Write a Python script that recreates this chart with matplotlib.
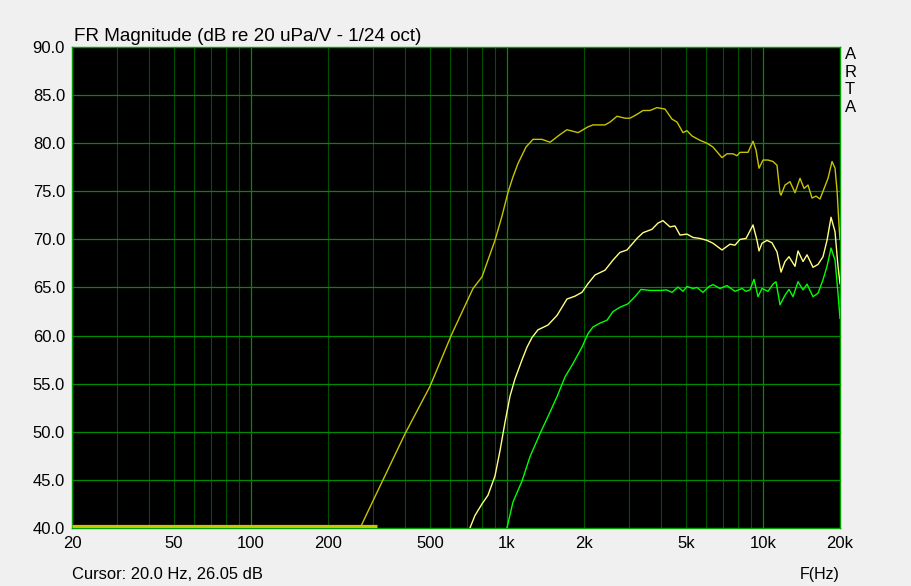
import numpy as np
import matplotlib
matplotlib.use("Agg")
import matplotlib.pyplot as plt
from matplotlib.ticker import FixedLocator, NullFormatter

# Curve 1 (olive yellow)
freq_a = [267, 297, 400, 500, 610, 737, 799, 898, 956, 1010, 1056, 1105, 1187, 1264, 1370,
          1474, 1612, 1716, 1896, 2073, 2168, 2416, 2528, 2692, 2892, 3024, 3221, 3402, 3620,
          3856, 4144, 4414, 4616, 4871, 5050, 5284, 5678, 6044, 6381, 6920, 7238, 7638, 7920,
          8136, 8742, 9146, 9394, 9652, 10006, 10466, 10946, 11350, 11660, 11766, 12196, 12756,
          13344, 13960, 14470, 14998, 15548, 16118, 16708, 17164, 17958, 18618, 19124, 19474,
          19820, 20000]
db_a = [40.0, 42.6, 49.8, 54.7, 60.2, 64.9, 66.1, 69.9, 72.4, 74.9, 76.5, 77.9, 79.6, 80.4, 80.4,
        80.1, 80.9, 81.4, 81.1, 81.7, 81.9, 81.9, 82.2, 82.8, 82.6, 82.6, 83.0, 83.4, 83.4,
        83.7, 83.55, 82.5, 82.2, 81.1, 81.3, 80.75, 80.3, 80.0, 79.6, 78.5, 78.9, 78.9, 78.7,
        79.05, 79.05, 80.2, 79.3, 77.4, 78.25, 78.25, 78.1, 77.7, 74.8, 74.6, 75.65, 76.0,
        74.85, 76.35, 75.3, 75.65, 74.3, 74.5, 74.2, 75.0, 76.35, 78.1, 77.4, 75.1,
        71.5, 70.0]

# Curve 2 (light yellow)
freq_b = [717, 750, 799, 843, 898, 939, 983, 1028, 1075, 1146, 1198, 1253, 1322, 1447, 1569,
          1716, 1844, 1964, 2073, 2208, 2416, 2596, 2764, 2944, 3221, 3402, 3685, 3892, 4070,
          4334, 4533, 4743, 5050, 5333, 5678, 6044, 6381, 6920, 7436, 7778, 8136, 8589, 9146,
          9480, 9652, 9916, 10372, 10848, 11350, 11766, 12196, 12642, 13344, 13710, 14342,
          14866, 15688, 16410, 17164, 17796, 18450, 19124, 19644, 20000]
db_b = [40.0, 41.3, 42.5, 43.4, 45.4, 48.0, 51.0, 53.7, 55.5, 57.5, 58.8, 59.8, 60.6, 61.1, 62.1,
        63.8, 64.1, 64.5, 65.4, 66.3, 66.8, 67.85, 68.65, 68.9, 70.1, 70.7, 71.05, 71.7, 71.95,
        71.3, 71.4, 70.45, 70.55, 70.2, 70.1, 69.9, 69.6, 68.9, 69.5, 69.4, 70.0, 70.1, 71.5,
        69.9, 68.8, 69.6, 69.9, 69.65, 68.7, 66.6, 67.7, 68.2, 67.2, 68.8, 67.7,
        68.4, 67.1, 67.4, 68.2, 69.9, 72.3, 70.8, 67.2, 65.4]

# Curve 3 (green)
freq_c = [1000, 1056, 1146, 1230, 1346, 1447, 1569, 1686, 1812, 1964, 2073, 2168, 2310, 2460,
          2596, 2764, 2970, 3164, 3340, 3620, 4000, 4200, 4414, 4658, 4871, 5050, 5333, 5526,
          5832, 6154, 6381, 6794, 7238, 7778, 8284, 8589, 8898, 9228, 9566, 9916, 10466, 10946,
          11246, 11660, 12196, 12642, 13104, 13710, 14342, 14866, 15688, 16410, 17164, 17796,
          18450, 19124, 19644, 20000]
db_c = [40.0, 42.7, 44.9, 47.4, 49.8, 51.6, 53.65, 55.7, 57.1, 58.8, 60.2, 60.9, 61.3, 61.6,
        62.5, 62.95, 63.3, 64.05, 64.8, 64.7, 64.7, 64.75, 64.5, 65.05, 64.6, 65.1, 64.9, 65.0,
        64.5, 65.1, 65.3, 64.9, 65.2, 64.6, 64.9, 64.6, 64.75, 65.85, 64.05, 64.9, 64.6, 65.35,
        65.6, 63.2, 64.2, 64.8, 64.05, 65.6, 64.75, 65.35, 64.05, 64.4, 65.8, 67.2,
        69.1, 67.85, 64.4, 61.8]

# Thick marker line along the bottom
band_freq = [20, 310]
band_db = [40.25, 40.25]

# Axis ticks
x_ticks = [20, 50, 100, 200, 500, 1000, 2000, 5000, 10000, 20000]
x_labels = ['20', '50', '100', '200', '500', '1k', '2k', '5k', '10k', '20k']
y_ticks = [40, 45, 50, 55, 60, 65, 70, 75, 80, 85, 90]

plt.rcParams['font.family'] = ['Liberation Sans', 'DejaVu Sans']

fig = plt.figure(figsize=(9.12, 5.86), dpi=100, facecolor='#f0f0f0')
ax = fig.add_axes([72 / 912, 58 / 586, 768 / 912, 481 / 586])
ax.set_facecolor('black')
ax.set_xscale('log')
ax.set_xlim(20, 20000)
ax.set_ylim(40, 90)

# Grid: minor verticals dark, decades and horizontals brighter
minor = [m * 10 ** d for d in range(1, 5) for m in range(2, 10) if 20 < m * 10 ** d < 20000]
for f in minor:
    ax.axvline(f, color='#005200', lw=0.8, zorder=1)
for f in [100, 1000, 10000]:
    ax.axvline(f, color='#008a00', lw=0.9, zorder=1)
for y in y_ticks[1:-1]:
    ax.axhline(y, color='#008a00', lw=0.9, zorder=1)

# Curves
ax.plot(band_freq, band_db, color='#c8c400', lw=2.3, solid_capstyle='butt', zorder=3)
ax.plot(freq_a, db_a, color='#c8c400', lw=1.0, zorder=3)
ax.plot(freq_b, db_b, color='#ffff80', lw=1.0, zorder=3)
ax.plot(freq_c, db_c, color='#00ff00', lw=1.0, zorder=3)

for s in ax.spines.values():
    s.set_color('#00a000')
    s.set_linewidth(1.0)

ax.xaxis.set_major_locator(FixedLocator(x_ticks))
ax.xaxis.set_minor_formatter(NullFormatter())
ax.set_xticks(x_ticks)
ax.set_xticklabels(x_labels)
ax.set_yticks(y_ticks)
ax.set_yticklabels([f'{v:.1f}' for v in y_ticks])
ax.tick_params(axis='both', which='both', length=0, labelsize=12, colors='black')
ax.tick_params(axis='x', pad=6)
ax.tick_params(axis='y', pad=5)

fig.text(74 / 912, 1 - 41 / 586, 'FR Magnitude (dB re 20 uPa/V - 1/24 oct)',
         fontsize=13.6, ha='left', va='baseline')
fig.text(72 / 912, 1 - 579 / 586, 'Cursor: 20.0 Hz, 26.05 dB', fontsize=11.9, ha='left', va='baseline')
fig.text(840 / 912, 1 - 579 / 586, 'F(Hz)', fontsize=11.5, ha='right', va='baseline')
fig.text(845 / 912, 1 - 47 / 586, 'A\nR\nT\nA', fontsize=12, ha='left', va='top', linespacing=1.22)

fig.savefig('out.png', dpi=100, facecolor=fig.get_facecolor())
